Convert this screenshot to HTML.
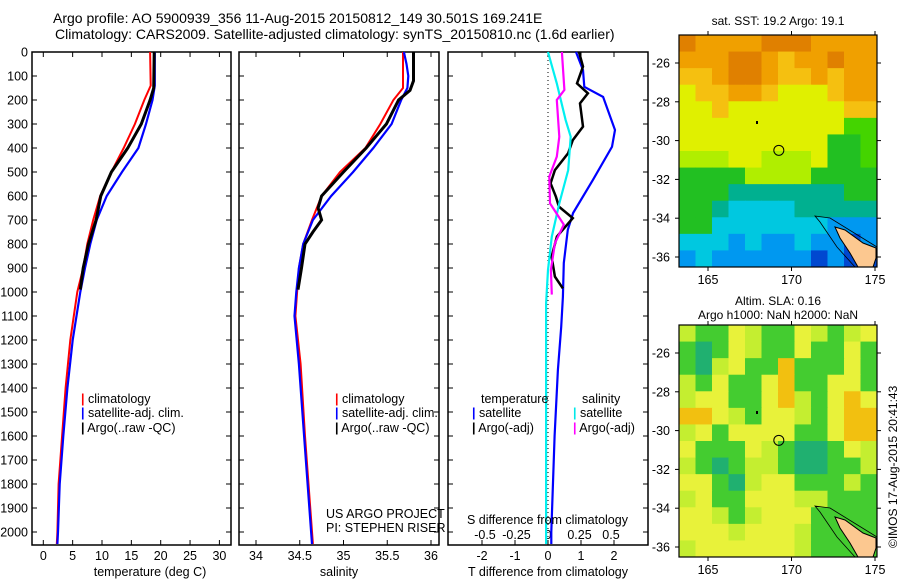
<!DOCTYPE html>
<html><head><meta charset="utf-8"><style>
body{margin:0;background:#fff}
svg{display:block;font-family:"Liberation Sans",sans-serif}
text{fill:#000}
</style></head><body>
<svg id="fig" width="900" height="580" xmlns="http://www.w3.org/2000/svg">
<text x="53" y="23" font-size="14">Argo profile: AO 5900939_356 11-Aug-2015 20150812_149 30.501S 169.241E</text>
<text x="55" y="39" font-size="14">Climatology: CARS2009. Satellite-adjusted climatology: synTS_20150810.nc (1.6d earlier)</text>
<g id="g1"></g>
<g id="g2"></g>
<g id="g3"></g>
<g id="m1"></g>
<g id="m2"></g>
<text x="81" y="403" font-size="12.5"><tspan fill="red" font-weight="bold">|</tspan> climatology</text>
<text x="81" y="417" font-size="12.5"><tspan fill="blue" font-weight="bold">|</tspan> satellite-adj. clim.</text>
<text x="81" y="432" font-size="12.5"><tspan font-weight="bold">|</tspan> Argo(..raw -QC)</text>
<text x="335" y="403" font-size="12.5"><tspan fill="red" font-weight="bold">|</tspan> climatology</text>
<text x="335" y="417" font-size="12.5"><tspan fill="blue" font-weight="bold">|</tspan> satellite-adj. clim.</text>
<text x="335" y="432" font-size="12.5"><tspan font-weight="bold">|</tspan> Argo(..raw -QC)</text>
<text x="326" y="518" font-size="12.5">US ARGO PROJECT</text>
<text x="326" y="532" font-size="12.5">PI: STEPHEN RISER</text>
<text x="481" y="403" font-size="12.5">temperature</text>
<text x="582" y="403" font-size="12.5">salinity</text>
<text x="472" y="417" font-size="12.5"><tspan fill="blue" font-weight="bold">|</tspan> satellite</text>
<text x="472" y="432" font-size="12.5"><tspan font-weight="bold">|</tspan> Argo(-adj)</text>
<text x="573" y="417" font-size="12.5"><tspan fill="#00e8e8" font-weight="bold">|</tspan> satellite</text>
<text x="573" y="432" font-size="12.5"><tspan fill="magenta" font-weight="bold">|</tspan> Argo(-adj)</text>
<text x="467" y="524" font-size="12.5">S difference from climatology</text>
<text x="150" y="576" font-size="12.5" text-anchor="middle">temperature (deg C)</text>
<text x="339" y="576" font-size="12.5" text-anchor="middle">salinity</text>
<text x="548" y="576" font-size="12.5" text-anchor="middle">T difference from climatology</text>
<text x="778" y="25" font-size="12" text-anchor="middle">sat. SST: 19.2 Argo: 19.1</text>
<text x="778" y="305" font-size="12" text-anchor="middle">Altim. SLA: 0.16</text>
<text x="778" y="319" font-size="12" text-anchor="middle">Argo h1000: NaN h2000: NaN</text>
<text transform="translate(897,548) rotate(-90)" font-size="12">©IMOS 17-Aug-2015 20:41:43</text>
</svg>
<script>
// ---- data ----
const tDepth=[0,140,200,300,400,500,600,700,800,900,1000,1200,1400,1600,1800,2000,2050];
const tClim=[18.2,18.3,17.2,15.6,13.7,11.6,9.7,8.5,7.5,6.8,5.8,4.6,3.8,3.2,2.6,2.4,2.3];
const tSat=[19.0,19.0,18.6,17.5,16.2,13.4,10.8,9.1,8.0,7.1,6.3,5.0,4.1,3.4,2.8,2.5,2.4];
const argoDepth=[0,150,200,300,400,500,600,700,800,900,990];
const tArgo=[18.9,18.8,18.2,16.7,14.4,11.6,9.8,9.0,7.7,6.8,6.3];
const sDepth=[0,50,100,150,200,300,400,500,600,700,800,900,1000,1100,1300,1600,1800,2050];
const sClim=[35.68,35.68,35.68,35.68,35.57,35.42,35.25,34.96,34.75,34.64,34.54,34.49,34.47,34.45,34.51,34.56,34.6,34.65];
const sSat=[35.69,35.72,35.74,35.73,35.66,35.55,35.34,35.11,34.86,34.65,34.54,34.49,34.46,34.44,34.49,34.55,34.59,34.64];
const sArgoDepth=[0,120,160,200,300,400,500,600,650,700,750,800,900,990];
const sArgo=[35.8,35.8,35.76,35.63,35.49,35.26,35.0,34.75,34.71,34.75,34.65,34.56,34.52,34.48];
const dtSatDepth=[0,75,145,187,325,395,533,671,741,879,1020,1146,1325,1600,2000,2050];
const dtSat=[0.85,1.06,1.1,1.67,2.03,1.94,1.36,0.76,0.6,0.48,0.45,0.4,0.3,0.2,0.1,0.1];
const dtArgoDepth=[0,61,131,172,214,311,367,422,492,547,603,644,692,769,853,936,985];
const dtArgo=[0.94,1.06,0.88,1.21,0.97,1.06,0.75,0.61,0.21,0.08,0.24,0.33,0.75,0.27,0.11,0.21,0.45];
const dsSatDepth=[0,131,283,353,492,631,769,908,1047,1500,2050];
const dsSat=[0,0.07,0.14,0.18,0.16,0.09,0.03,0,-0.015,-0.015,-0.015];
const dsArgoDepth=[0,158,200,353,436,519,631,719,797,908,1011];
const dsArgo=[0.11,0.13,0.07,0.09,0.07,0.01,0.016,0.125,0.055,0.023,0.03];
const depthTicks=[0,100,200,300,400,500,600,700,800,900,1000,1100,1200,1300,1400,1500,1600,1700,1800,1900,2000];
const tTicks=[0,5,10,15,20,25,30];
const sTicks=[34,34.5,35,35.5,36];
const dTTicks=[-2,-1,0,1,2];
const dSTicks=[-0.5,-0.25,0,0.25,0.5];
const dSLabels=['-0.5','-0.25','0','0.25','0.5'];
const latTicks=[-26,-28,-30,-32,-34,-36];
const lonTicks=[165,170,175];
const sstGrid=["DOOOODDDOOOO","OOODDOoOODOO","ooODDOooOoOO","yooOOoyyyoOO","yyoyyyyyyyoo","yyyyyyyyyygg","yyyyyyyyyGGg","lllyylllyGGg","GGGGllllGGGG","GGGTTTTTTTGG","GGTCCCCTTTTT","GGCCCCCCCBBB","CCCBCBBCBBNB","BCBBBBBBNBNN"];
const slaGrid=["lGGylGGylGly","GTGylGGyGGyG","GTlyGGoGGGyG","lGyGGyoGGyyG","lyyGGyolGyoy","ooylGyylGyoo","lyGyyyyGGyoo","yGGGylGTTGyl","lGTGllGTTGGl","yyGTlyyGGGlG","lyGGyyyllGGG","yylGlyyyGGGG","yyylyyylGGGG","lyyyyyylGGGG"];
const argoLon=169.241, argoLat=-30.501;

const NS="http://www.w3.org/2000/svg";
function mk(p,tag,a){const e=document.createElementNS(NS,tag);for(const k in a)e.setAttribute(k,a[k]);p.appendChild(e);return e;}
const Y=d=>52+0.24*d;
function panel(g,x0,x1,xs,ticks,labels,showDepth){
  const fr=mk(g,'rect',{x:x0,y:52,width:x1-x0,height:493,fill:'none',stroke:'#000','stroke-width':1.5});
  
  
  depthTicks.forEach(d=>{const y=Y(d);
    mk(g,'line',{x1:x0,x2:x0+5,y1:y,y2:y,stroke:'#000'});
    mk(g,'line',{x1:x1-5,x2:x1,y1:y,y2:y,stroke:'#000'});
    if(showDepth){const t=mk(g,'text',{x:28,y:y+4.5,'font-size':12.5,'text-anchor':'end'});t.textContent=d;
      
      }
  });
  ticks.forEach((v,i)=>{const x=xs(v);
    mk(g,'line',{x1:x,x2:x,y1:52,y2:57,stroke:'#000'});
    mk(g,'line',{x1:x,x2:x,y1:540,y2:545,stroke:'#000'});
    const t=mk(g,'text',{x:x,y:560,'font-size':12.5,'text-anchor':'middle'});t.textContent=labels?labels[i]:v;
    
    
  });
}
function line(g,depths,vals,xs,color,w,name){
  const pts=depths.map((d,i)=>xs(vals[i]).toFixed(1)+','+Y(d).toFixed(1)).join(' ');
  const p=mk(g,'polyline',{points:pts,fill:'none',stroke:color,'stroke-width':w});
  
  
}
const g1=document.getElementById('g1'),g2=document.getElementById('g2'),g3=document.getElementById('g3');
const xT=v=>43.3+5.87*v;
panel(g1,32,231,xT,tTicks,null,true);
line(g1,tDepth,tClim,xT,'red',2,'temp-climatology-line');
line(g1,tDepth,tSat,xT,'blue',2.2,'temp-satellite-line');
line(g1,argoDepth,tArgo,xT,'#000',3,'temp-argo-line');
const xS=v=>256+87.5*(v-34);
panel(g2,239,439,xS,sTicks,null,false);
line(g2,sDepth,sClim,xS,'red',2,'sal-climatology-line');
line(g2,sDepth,sSat,xS,'blue',2.2,'sal-satellite-line');
line(g2,sArgoDepth,sArgo,xS,'#000',3,'sal-argo-line');
const xD=v=>548+33*v, xDS=v=>548+126*v;
panel(g3,448,648,xD,dTTicks,null,false);
const zl=mk(g3,'line',{x1:548,x2:548,y1:52,y2:545,stroke:'#000','stroke-dasharray':'1,3'});


dSTicks.forEach((v,i)=>{const t=mk(g3,'text',{x:xDS(v),y:539,'font-size':12.5,'text-anchor':'middle'});t.textContent=dSLabels[i];
  
  });
line(g3,dtSatDepth,dtSat,xD,'blue',2.2,'tdiff-satellite-line');
line(g3,dtArgoDepth,dtArgo,xD,'#000',2.5,'tdiff-argo-line');
line(g3,dsSatDepth,dsSat,xDS,'#00f0f0',2.2,'sdiff-satellite-line');
line(g3,dsArgoDepth,dsArgo,xDS,'magenta',2.2,'sdiff-argo-line');

const colS={D:'#e08000',O:'#f0a000',o:'#f5c010',y:'#e0f000',l:'#b0ee00',g:'#44d400',G:'#22c022',T:'#00b090',C:'#00c8e0',B:'#0098f0',N:'#0048d0'};
const colA={y:'#e8f23a',o:'#f2c010',l:'#c4ee30',G:'#44cc30',T:'#20b070'};
function map(g,oy,grid,cols){
  const x0=679,x1=877,y0=35+oy,y1=267+oy;
  const lonX=l=>708+(l-165)*16.7, latY=l=>oy+63+(-26-l)*19.4;
  const nr=grid.length,nc=grid[0].length,cw=(x1-x0)/nc,ch=(y1-y0)/nr;
  grid.forEach((row,r)=>{for(let c=0;c<nc;c++){
    const cell=mk(g,'rect',{x:x0+c*cw,y:y0+r*ch,width:cw+0.5,height:ch+0.5,fill:cols[row[c]]});
    
    }});
  const ol=mk(g,'polygon',{points:[[815,216],[830,218],[877,247],[877,267],[855,267],[837,247],[820,222]].map(p=>p[0]+','+(p[1]+oy)).join(' '),fill:'none',stroke:'#000','stroke-width':0.8});
  
  
  const land=mk(g,'polygon',{points:[[835,227],[845,230],[863,243],[876,248],[876,258],[873,267],[858,267],[850,253],[840,238]].map(p=>p[0]+','+(p[1]+oy)).join(' '),fill:'#fcc890',stroke:'#000','stroke-width':1});
  
  
  const fr=mk(g,'rect',{x:x0,y:y0,width:x1-x0,height:y1-y0,fill:'none',stroke:'#000','stroke-width':1.2});
  
  
  latTicks.forEach(l=>{const y=latY(l);
    mk(g,'line',{x1:x0,x2:x0-4,y1:y,y2:y,stroke:'#000'});mk(g,'line',{x1:x1,x2:x1+4,y1:y,y2:y,stroke:'#000'});
    const t=mk(g,'text',{x:670,y:y+4.5,'font-size':12.5,'text-anchor':'end'});t.textContent=l;
    
    });
  lonTicks.forEach(l=>{const x=lonX(l);
    mk(g,'line',{x1:x,x2:x,y1:y0,y2:y0-4,stroke:'#000'});mk(g,'line',{x1:x,x2:x,y1:y1,y2:y1+4,stroke:'#000'});
    const t=mk(g,'text',{x:x,y:y1+17,'font-size':12.5,'text-anchor':'middle'});t.textContent=l;
    
    });
  const c=mk(g,'circle',{cx:lonX(argoLon),cy:latY(argoLat),r:5,fill:'none',stroke:'#000','stroke-width':1});
  
  
  mk(g,'rect',{x:756,y:oy+121,width:2,height:3,fill:'#000'});
}
map(document.getElementById('m1'),0,sstGrid,colS);
map(document.getElementById('m2'),290,slaGrid,colA);
</script>
</body></html>
